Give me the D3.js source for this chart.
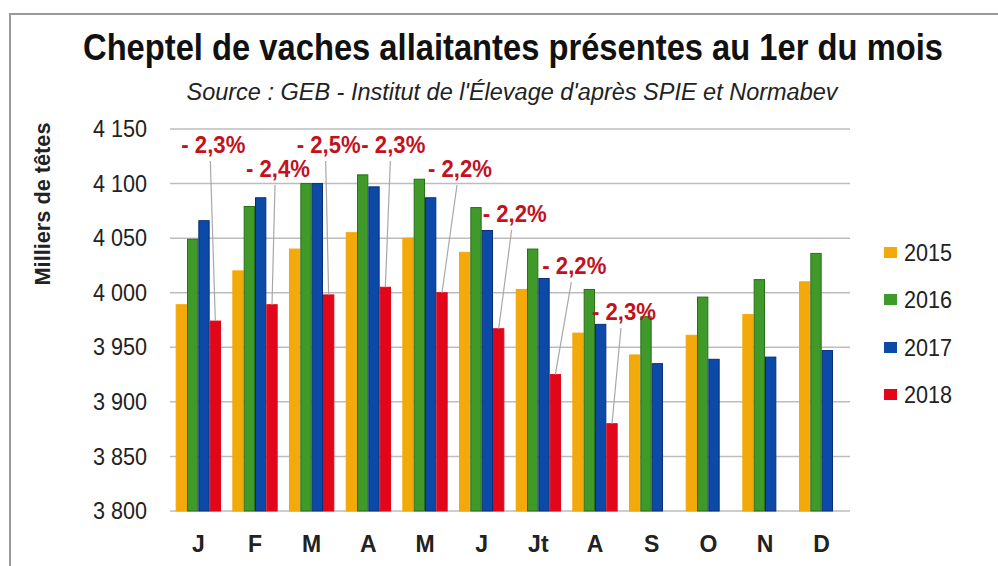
<!DOCTYPE html>
<html>
<head>
<meta charset="utf-8">
<script src="https://cdn.jsdelivr.net/npm/d3@7"></script>
<style>
  body { margin: 0; background: #fff; }
  svg { display: block; font-family: "Liberation Sans Narrow", "Arial Narrow", "Liberation Sans", Arial, sans-serif; }
</style>
</head>
<body>
<div id="chart"></div>
<script>
// data (milliers de têtes)
const months = ["J", "F", "M", "A", "M ", "J ", "Jt", "A ", "S", "O", "N", "D"];
const monthLabels = ["J", "F", "M", "A", "M", "J", "Jt", "A", "S", "O", "N", "D"];
const years = ["2015", "2016", "2017", "2018"];
const v2015 = [3989, 4020, 4040, 4055, 4050, 4037, 4003, 3963, 3943, 3961, 3980, 4010];
const v2016 = [4049, 4079, 4100, 4108, 4104, 4078, 4040, 4003, 3978, 3996, 4012, 4036];
const v2017 = [4066, 4087, 4100, 4097, 4087, 4057, 4013, 3971, 3935, 3939, 3941, 3947];
const v2018 = [3974, 3989, 3998, 4005, 4000, 3967, 3925, 3880];
const evolution = ["- 2,3%", "- 2,4%", "- 2,5%", "- 2,3%", "- 2,2%", "- 2,2%", "- 2,2%", "- 2,3%"];
const yTicks = [3800, 3850, 3900, 3950, 4000, 4050, 4100, 4150];

const series = [v2015, v2016, v2017, v2018];
const colors = ["#f3a90a", "#3f9a2a", "#0c4aa8", "#e2061b"];
const strokes = ["#f3a90a", "#2b6e1a", "#0a2d7a", "#e2061b"];

const W = 998, H = 566;
const plotLeft = 170, plotRight = 850, plotTop = 129, plotBottom = 511;

const svg = d3.select("#chart").append("svg")
  .attr("width", W)
  .attr("height", H);

// frame
svg.append("rect")
  .attr("x", 10).attr("y", 14)
  .attr("width", 1000).attr("height", 600)
  .attr("fill", "#fff")
  .attr("stroke", "#9a9a9a")
  .attr("stroke-width", 2);

// Scales

const x = d3.scaleBand()
  .domain(months)
  .range([plotLeft, plotRight])
  .paddingInner(0.2)
  .paddingOuter(0.1);

const xYear = d3.scaleBand()
  .domain(years)
  .range([0, x.bandwidth()]);

const y = d3.scaleLinear()
  .domain([3800, 4150])
  .range([plotBottom, plotTop]);

const fr = d3.formatLocale({ thousands: " ", grouping: [3], decimal: ",", currency: ["", ""] });

// gridlines
svg.append("g")
  .selectAll("line")
  .data(yTicks)
  .enter()
  .append("line")
  .attr("x1", plotLeft)
  .attr("x2", plotRight)
  .attr("y1", d => y(d))
  .attr("y2", d => y(d))
  .attr("stroke", "#bdbdbd")
  .attr("stroke-width", 1.5);

// y axis
const yAxis = svg.append("g")
  .attr("transform", "translate(" + plotLeft + ",0)")
  .call(d3.axisLeft(y).tickValues(yTicks).tickSize(0).tickPadding(23).tickFormat(fr.format(",d")));
yAxis.select(".domain").remove();
yAxis.selectAll("text")
  .attr("textLength", 54)
  .attr("lengthAdjust", "spacingAndGlyphs")
  .style("font-family", "'Liberation Sans', Arial, sans-serif")
  .style("font-size", "24px")
  .attr("fill", "#222");

// x axis
const xAxis = svg.append("g")
  .attr("transform", "translate(0," + plotBottom + ")")
  .call(d3.axisBottom(x).tickSize(0).tickPadding(25).tickFormat((d, i) => monthLabels[i]));
xAxis.select(".domain").remove();
xAxis.selectAll("text")
  .style("font-family", "'Liberation Sans', Arial, sans-serif")
  .style("font-size", "23px")
  .style("font-weight", "bold")
  .attr("fill", "#222");

// Bars

series.forEach((vals, s) => {
  svg.append("g")
    .selectAll("rect")
    .data(vals)
    .enter()
    .append("rect")
    .attr("x", (d, i) => x(months[i]) + xYear(years[s]) + 0.5)
    .attr("y", d => y(d))
    .attr("width", xYear.bandwidth() - 1)
    .attr("height", d => plotBottom - y(d))
    .attr("fill", colors[s])
    .attr("stroke", strokes[s])
    .attr("stroke-width", 1);
});

// Annotations (-x% vs previous year)

const labelLevel = [4128, 4106, 4128, 4128, 4106, 4065, 4017, 3975];
const labelShift = [-2, 6, 0, 8, 18, 16, 19, 12];

const redX = i => x(months[i]) + xYear("2018") + xYear.bandwidth() / 2;

svg.append("g")
  .selectAll("line")
  .data(v2018)
  .enter()
  .append("line")
  .attr("x1", (d, i) => redX(i) + labelShift[i] - 3)
  .attr("y1", (d, i) => y(labelLevel[i]) + 8)
  .attr("x2", (d, i) => redX(i))
  .attr("y2", d => y(d))
  .attr("stroke", "#a8a8a8")
  .attr("stroke-width", 1.2);

svg.append("g")
  .selectAll("text")
  .data(evolution)
  .enter()
  .append("text")
  .attr("x", (d, i) => redX(i) + labelShift[i])
  .attr("y", (d, i) => y(labelLevel[i]))
  .attr("text-anchor", "middle")
  .attr("textLength", 64)
  .attr("lengthAdjust", "spacingAndGlyphs")
  .style("font-size", "23px")
  .style("font-weight", "bold")
  .attr("fill", "#c3121e")
  .text(d => d);

// Titles

svg.append("text")
  .attr("x", 513)
  .attr("y", 60)
  .attr("text-anchor", "middle")
  .attr("textLength", 860)
  .attr("lengthAdjust", "spacingAndGlyphs")
  .style("font-size", "37px")
  .style("font-weight", "bold")
  .attr("fill", "#111")
  .text("Cheptel de vaches allaitantes présentes au 1er du mois");

svg.append("text")
  .attr("x", 512)
  .attr("y", 100)
  .attr("text-anchor", "middle")
  .attr("textLength", 651)
  .attr("lengthAdjust", "spacingAndGlyphs")
  .style("font-size", "23px")
  .style("font-style", "italic")
  .attr("fill", "#222")
  .text("Source : GEB - Institut de l'Élevage d'après SPIE et Normabev");

svg.append("text")
  .attr("transform", "translate(50,204) rotate(-90)")
  .attr("text-anchor", "middle")
  .attr("textLength", 163)
  .attr("lengthAdjust", "spacingAndGlyphs")
  .style("font-size", "22px")
  .style("font-weight", "bold")
  .attr("fill", "#222")
  .text("Milliers de têtes");

// Legend

const legendY = [252, 299, 347, 394];

svg.append("g")
  .selectAll("rect")
  .data(years)
  .enter()
  .append("rect")
  .attr("x", 884)
  .attr("y", (d, i) => legendY[i] - 5)
  .attr("width", 13)
  .attr("height", 11)
  .attr("fill", (d, i) => colors[i]);

svg.append("g")
  .selectAll("text")
  .data(years)
  .enter()
  .append("text")
  .attr("x", 904)
  .attr("y", (d, i) => legendY[i])
  .attr("dy", "0.36em")
  .attr("textLength", 48)
  .attr("lengthAdjust", "spacingAndGlyphs")
  .style("font-family", "'Liberation Sans', Arial, sans-serif")
  .style("font-size", "24px")
  .attr("fill", "#222")
  .text(d => d);
</script>
</body>
</html>
